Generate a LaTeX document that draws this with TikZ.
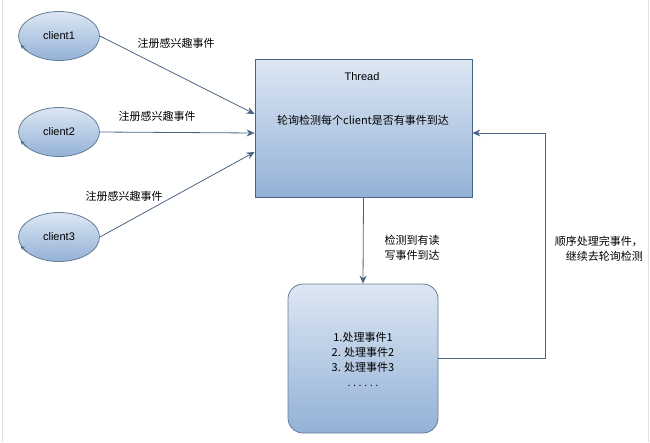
\documentclass[tikz,border=0pt]{standalone}
\usepackage{xcolor}
\usepackage{fontspec}
\setmainfont{Liberation Sans}
\newfontfamily\cjk{Noto Sans CJK SC}
\usepackage{tikz}
\usetikzlibrary{shapes.geometric,arrows.meta,positioning}

\definecolor{edgeblue}{HTML}{4A6585}
\definecolor{topblue}{HTML}{DDE7F3}
\definecolor{botblue}{HTML}{93B1D7}

\tikzset{
	client/.style={ellipse,draw=edgeblue!85,line width=0.8pt,top color=topblue,bottom color=botblue,minimum width=81pt,minimum height=49pt,font=\fontsize{11pt}{13pt}\selectfont},
	threadbox/.style={rectangle,draw=edgeblue,line width=0.8pt,top color=topblue,bottom color=botblue,minimum width=217pt,minimum height=138pt},
	workbox/.style={rectangle,rounded corners=15pt,draw=edgeblue!85,line width=0.8pt,top color=topblue,bottom color=botblue,minimum width=150pt,minimum height=149pt},
	lbl/.style={font=\cjk\fontsize{11pt}{15pt}\selectfont,inner sep=0pt},
	arr/.style={draw=edgeblue,line width=0.8pt,-{Stealth[length=8pt,width=7pt]}},
	tip/.style={draw=edgeblue,line width=0.6pt,-{Stealth[length=4pt,width=4pt]}}
}

\begin{document}
\begin{tikzpicture}[x=1pt,y=-1pt]
	\useasboundingbox (0,0) rectangle (650,442);
	\draw[black!12,line width=1pt] (2,0) -- (2,442);
	\draw[black!12,line width=1pt] (648,0) -- (648,442);

	% clients
	\node[client] (c1) at (59,36) {client1};
	\node[client] (c2) at (59,132) {client2};
	\node[client] (c3) at (59,237) {client3};
	\draw[tip] (c1.205) -- (c1.193);
	\draw[tip] (c2.205) -- (c2.193);
	\draw[tip] (c3.205) -- (c3.193);

	% polling thread
	\node[threadbox] (thread) at (363.5,128) {};
	\node[font=\fontsize{11pt}{13pt}\selectfont] (tname) at (362,77) {Thread};
	\node[lbl] (poll) at (363,120) {轮询检测每个client是否有事件到达};

	% event handling
	\node[workbox] (work) at (363,358.5) {};
	\node[lbl,align=center,font=\fontsize{11pt}{15pt}\selectfont] (jobs) at (363,359) {\cjk 1.处理事件1\\ \cjk 2. 处理事件2\\ \cjk 3. 处理事件3\\ .\hspace{2.5pt}.\hspace{2.5pt}.\hspace{2.5pt}.\hspace{2.5pt}.\hspace{2.5pt}.};

	\coordinate (ret) at (545,133);

	\draw[arr] (c1.east) -- ([yshift=14pt]thread.west);
	\draw[arr] (c2.east) -- ([yshift=-5pt]thread.west);
	\draw[arr] (c3.east) -- ([yshift=-24pt]thread.west);
	\draw[arr] (thread.south) -- (work.north);
	\draw[arr] (work.east) -| (ret) -- ([yshift=-5pt]thread.east);

	\node[lbl] (r1) at (176,43) {注册感兴趣事件};
	\node[lbl] (r2) at (157,116) {注册感兴趣事件};
	\node[lbl] (r3) at (124,196) {注册感兴趣事件};
	\node[lbl,align=center] (found) at (412,248) {检测到有读\\写事件到达};
	\node[lbl,align=right,anchor=east] (again) at (643,249) {顺序处理完事件，\\继续去轮询检测};
\end{tikzpicture}
\end{document}
